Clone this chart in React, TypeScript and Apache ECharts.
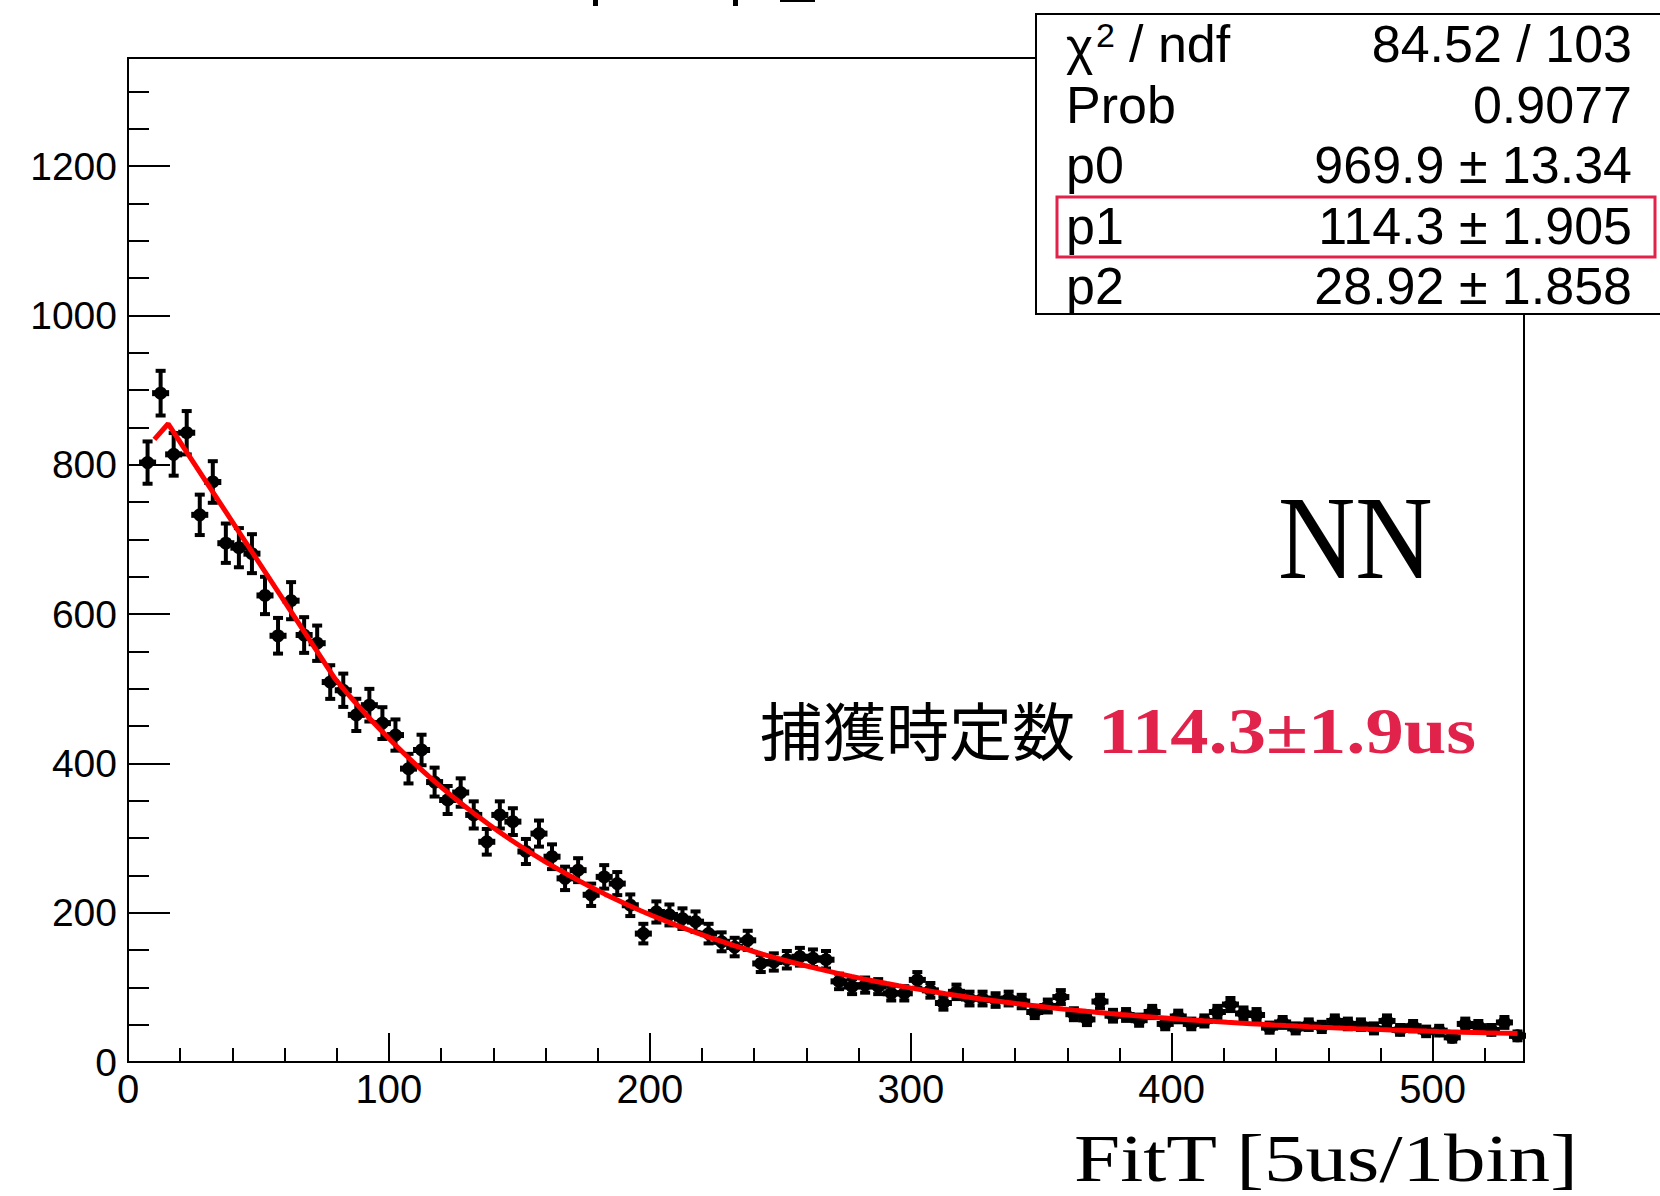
import React, { useEffect, useRef } from "react";
import * as echarts from "echarts";

// Histogram binning: 5 units per bin, first filled bin starts at 5
const binLow = 5;
const binWidth = 5;

// Entries per bin (FitT histogram)
const counts = [
  803, 896, 814, 843, 733, 777, 695, 689, 681, 625,
  571, 618, 572, 561, 509, 498, 465, 478, 454, 438,
  393, 418, 375, 351, 361, 331, 295, 331, 322, 282,
  306, 275, 246, 257, 224, 248, 239, 210, 172, 201,
  197, 192, 188, 172, 161, 154, 163, 132, 134, 137,
  141, 139, 137, 108, 101, 103, 101, 92, 92, 110,
  96, 79, 94, 85, 85, 83, 85, 81, 67, 75,
  87, 64, 57, 81, 62, 63, 56, 67, 51, 61,
  51, 55, 67, 77, 65, 63, 46, 53, 45, 50,
  47, 55, 51, 50, 45, 55, 43, 48, 41, 42,
  33, 51, 48, 43, 53, 35,
];

// Fit result: p0 * exp(-x / p1) + p2
const p0 = 969.9;
const p1 = 114.3;
const p2 = 28.92;

// Start of the drawn fit polyline, then the fitted function from fitFrom to fitTo
const fitHead: number[][] = [
  [10.1, 834],
  [15.4, 855],
];
const fitFrom = 79.3;
const fitTo = 532.5;
const fitStep = 4.5;

// Stats box rows
const statLabels = ["Prob", "p0", "p1", "p2"];
const statValues = ["84.52 / 103", "0.9077", "969.9 \u00b1 13.34", "114.3 \u00b1 1.905", "28.92 \u00b1 1.858"];

// Axis ranges and tick spacing
const xMax = 535;
const yMax = 1345;
const xMinor = 20;
const xMajor = 100;
const yMinor = 50;
const yMajor = 200;

const SANS = "'Liberation Sans', Arial, Helvetica, sans-serif";
const SERIF = "'Liberation Serif', 'Times New Roman', serif";
const CJK = "'Noto Sans CJK JP', 'Noto Sans CJK SC', sans-serif";
const ACCENT = "#e1234b";

function buildFitCurve(): number[][] {
  const pts: number[][] = fitHead.map((p) => [p[0], p[1]]);
  for (let x = fitFrom; x < fitTo; x += fitStep) {
    pts.push([x, p0 * Math.exp(-x / p1) + p2]);
  }
  pts.push([fitTo, p0 * Math.exp(-fitTo / p1) + p2]);
  return pts;
}

export default function App() {
  const ref = useRef<HTMLDivElement>(null);

  useEffect(() => {
    if (!ref.current) return;
    const chart = echarts.init(ref.current, undefined, { renderer: "svg" });

    const histData = counts.map((c, i) => [binLow + binWidth * (i + 0.5), c, Math.sqrt(c)]);

    const tickLine = { color: "#000", width: 2 };
    const rowY = [44, 105, 165, 226, 286];

    const graphic: any[] = [
      // fragments of the cut-off title at the very top
      { type: "rect", shape: { x: 593, y: 0, width: 5, height: 6 }, style: { fill: "#000" }, z: 100 },
      { type: "rect", shape: { x: 733, y: 0, width: 5, height: 6 }, style: { fill: "#000" }, z: 100 },
      { type: "rect", shape: { x: 780, y: 0, width: 35, height: 2 }, style: { fill: "#000" }, z: 100 },
      // stats box
      {
        type: "rect",
        shape: { x: 1036, y: 14, width: 640, height: 300 },
        style: { fill: "#fff", stroke: "#000", lineWidth: 2 },
        z: 100,
      },
      {
        type: "text",
        x: 1066,
        y: rowY[0] + 2,
        style: { text: "\u03c7", font: `52px ${SANS}`, fill: "#000", textAlign: "left", textVerticalAlign: "middle" },
        z: 101,
      },
      {
        type: "text",
        x: 1096,
        y: 35,
        style: { text: "2", font: `34px ${SANS}`, fill: "#000", textAlign: "left", textVerticalAlign: "middle" },
        z: 101,
      },
      {
        type: "text",
        x: 1129,
        y: rowY[0],
        style: { text: "/ ndf", font: `52px ${SANS}`, fill: "#000", textAlign: "left", textVerticalAlign: "middle" },
        z: 101,
      },
      ...statLabels.map((t, i) => ({
        type: "text",
        x: 1066,
        y: rowY[i + 1],
        style: { text: t, font: `52px ${SANS}`, fill: "#000", textAlign: "left", textVerticalAlign: "middle" },
        z: 101,
      })),
      ...statValues.map((t, i) => ({
        type: "text",
        x: 1632,
        y: rowY[i],
        style: { text: t, font: `52px ${SANS}`, fill: "#000", textAlign: "right", textVerticalAlign: "middle" },
        z: 101,
      })),
      // highlight around p1
      {
        type: "rect",
        shape: { x: 1057, y: 197, width: 598, height: 60 },
        style: { fill: "none", stroke: ACCENT, lineWidth: 3 },
        z: 102,
      },
      // channel tag
      {
        type: "text",
        x: 1278,
        y: 538,
        scaleX: 0.9,
        style: { text: "NN", font: `119px ${SERIF}`, fill: "#000", textAlign: "left", textVerticalAlign: "middle" },
        z: 50,
      },
      // capture time constant
      {
        type: "text",
        x: 760,
        y: 727,
        style: { text: "\u6355\u7372\u6642\u5b9a\u6570", font: `63px ${CJK}`, fill: "#000", textAlign: "left", textVerticalAlign: "middle" },
        z: 50,
      },
      {
        type: "text",
        x: 1098,
        y: 730,
        scaleX: 1.16,
        style: { text: "114.3\u00b11.9us", font: `bold 66px ${SERIF}`, fill: ACCENT, textAlign: "left", textVerticalAlign: "middle" },
        z: 50,
      },
      // x-axis title
      {
        type: "text",
        x: 1074,
        y: 1158,
        scaleX: 1.24,
        style: { text: "FitT [5us/1bin]", font: `67px ${SERIF}`, fill: "#000", textAlign: "left", textVerticalAlign: "middle" },
        z: 50,
      },
    ];

    const option: any = {
      animation: false,
      backgroundColor: "#fff",
      grid: {
        left: 128,
        top: 58,
        width: 1396,
        height: 1004,
        show: true,
        borderColor: "#000",
        borderWidth: 2,
        backgroundColor: "transparent",
      },
      xAxis: [
        {
          type: "value",
          min: 0,
          max: xMax,
          interval: xMinor,
          position: "bottom",
          axisLine: { show: true, lineStyle: tickLine },
          axisTick: { show: true, inside: true, length: 14, lineStyle: tickLine },
          axisLabel: {
            show: true,
            margin: 7,
            color: "#000",
            fontFamily: SANS,
            fontSize: 40,
            showMaxLabel: false,
            formatter: (v: number) => (v % xMajor === 0 ? String(v) : ""),
          },
          splitLine: { show: false },
        },
        {
          type: "value",
          min: 0,
          max: xMax,
          interval: xMajor,
          position: "bottom",
          axisLine: { show: false },
          axisTick: { show: true, inside: true, length: 29, lineStyle: tickLine },
          axisLabel: { show: false },
          splitLine: { show: false },
        },
      ],
      yAxis: [
        {
          type: "value",
          min: 0,
          max: yMax,
          interval: yMinor,
          position: "left",
          axisLine: { show: true, lineStyle: tickLine },
          axisTick: { show: true, inside: true, length: 21, lineStyle: tickLine },
          axisLabel: {
            show: true,
            margin: 11,
            color: "#000",
            fontFamily: SANS,
            fontSize: 39,
            showMaxLabel: false,
            formatter: (v: number) => (v % yMajor === 0 ? String(v) : ""),
          },
          splitLine: { show: false },
        },
        {
          type: "value",
          min: 0,
          max: yMax,
          interval: yMajor,
          position: "left",
          axisLine: { show: false },
          axisTick: { show: true, inside: true, length: 42, lineStyle: tickLine },
          axisLabel: { show: false },
          splitLine: { show: false },
        },
      ],
      series: [
        {
          type: "custom",
          name: "FitT",
          xAxisIndex: 0,
          yAxisIndex: 0,
          data: histData,
          encode: { x: 0, y: 1 },
          z: 3,
          renderItem: (_params: any, api: any) => {
            const x = api.value(0);
            const y = api.value(1);
            const e = api.value(2);
            const c = api.coord([x, y]);
            const top = api.coord([x, y + e]);
            const bot = api.coord([x, y - e]);
            const l = api.coord([x - binWidth / 2, y]);
            const r = api.coord([x + binWidth / 2, y]);
            const st = { stroke: "#000", lineWidth: 4 };
            return {
              type: "group",
              children: [
                { type: "line", shape: { x1: c[0], y1: top[1], x2: c[0], y2: bot[1] }, style: st },
                { type: "line", shape: { x1: c[0] - 5, y1: top[1], x2: c[0] + 5, y2: top[1] }, style: st },
                { type: "line", shape: { x1: c[0] - 5, y1: bot[1], x2: c[0] + 5, y2: bot[1] }, style: st },
                { type: "line", shape: { x1: l[0] - 2, y1: c[1], x2: r[0] + 2, y2: c[1] }, style: { stroke: "#000", lineWidth: 6 } },
                { type: "circle", shape: { cx: c[0], cy: c[1], r: 6.5 }, style: { fill: "#000" } },
              ],
            };
          },
        },
        {
          type: "line",
          name: "fit",
          xAxisIndex: 0,
          yAxisIndex: 0,
          data: buildFitCurve(),
          showSymbol: false,
          symbol: "none",
          lineStyle: { color: "#ff0000", width: 5 },
          z: 5,
        },
      ],
      graphic,
    };

    chart.setOption(option);
    return () => chart.dispose();
  }, []);

  return (
    <div
      ref={ref}
      style={{ position: "absolute", left: 0, top: 0, width: 1660, height: 1196, background: "#fff" }}
    />
  );
}
